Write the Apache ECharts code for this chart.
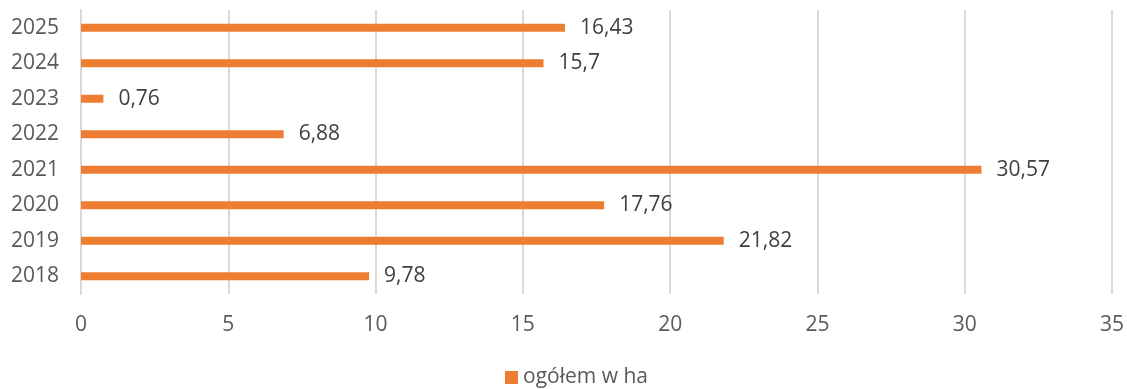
<!DOCTYPE html>
<html>
<head>
<meta charset="utf-8">
<script src="https://cdn.jsdelivr.net/npm/echarts@6/dist/echarts.min.js"></script>
<style>
  html, body { margin: 0; padding: 0; background: #ffffff; }
  #chart { width: 1127px; height: 389px; }
</style>
</head>
<body>
<div id="chart"></div>
<script>
// Years, bottom to top
const years = ['2018', '2019', '2020', '2021', '2022', '2023', '2024', '2025'];
// Area per year, hectares
const areaHa = [9.78, 21.82, 17.76, 30.57, 6.88, 0.76, 15.7, 16.43];
const seriesName = 'ogółem w ha';
const xTicks = [0, 5, 10, 15, 20, 25, 30, 35];

const chart = echarts.init(document.getElementById('chart'), null, { renderer: 'canvas' });
const font = '"Open Sans", "Liberation Sans", sans-serif';

chart.setOption({
  animation: false,
  backgroundColor: '#ffffff',
  grid: { left: 81, right: 15, top: 10, bottom: 95, containLabel: false },
  legend: {
    data: [seriesName],
    bottom: -4,
    left: 500,
    itemWidth: 13,
    itemHeight: 13,
    itemGap: 6,
    icon: 'rect',
    textStyle: { color: '#595959', fontSize: 21, fontFamily: font }
  },
  xAxis: {
    type: 'value',
    min: xTicks[0],
    max: xTicks[xTicks.length - 1],
    interval: 5,
    axisLine: { show: false },
    axisTick: { show: false },
    splitLine: { show: true, lineStyle: { color: '#d9d9d9', width: 2 } },
    axisLabel: { color: '#595959', fontSize: 21, fontFamily: font, margin: 21 }
  },
  yAxis: {
    type: 'category',
    data: years,
    axisLine: { show: true, lineStyle: { color: '#d9d9d9', width: 2 } },
    axisTick: { show: false },
    axisLabel: { color: '#595959', fontSize: 21, fontFamily: font, margin: 22 }
  },
  series: [{
    name: seriesName,
    type: 'bar',
    data: areaHa,
    barWidth: 8,
    itemStyle: { color: '#ED7D31' },
    label: {
      show: true,
      position: 'right',
      distance: 15,
      color: '#404040',
      fontSize: 21,
      fontFamily: font,
      formatter: p => String(p.value).replace('.', ',')
    }
  }]
});
</script>
</body>
</html>
